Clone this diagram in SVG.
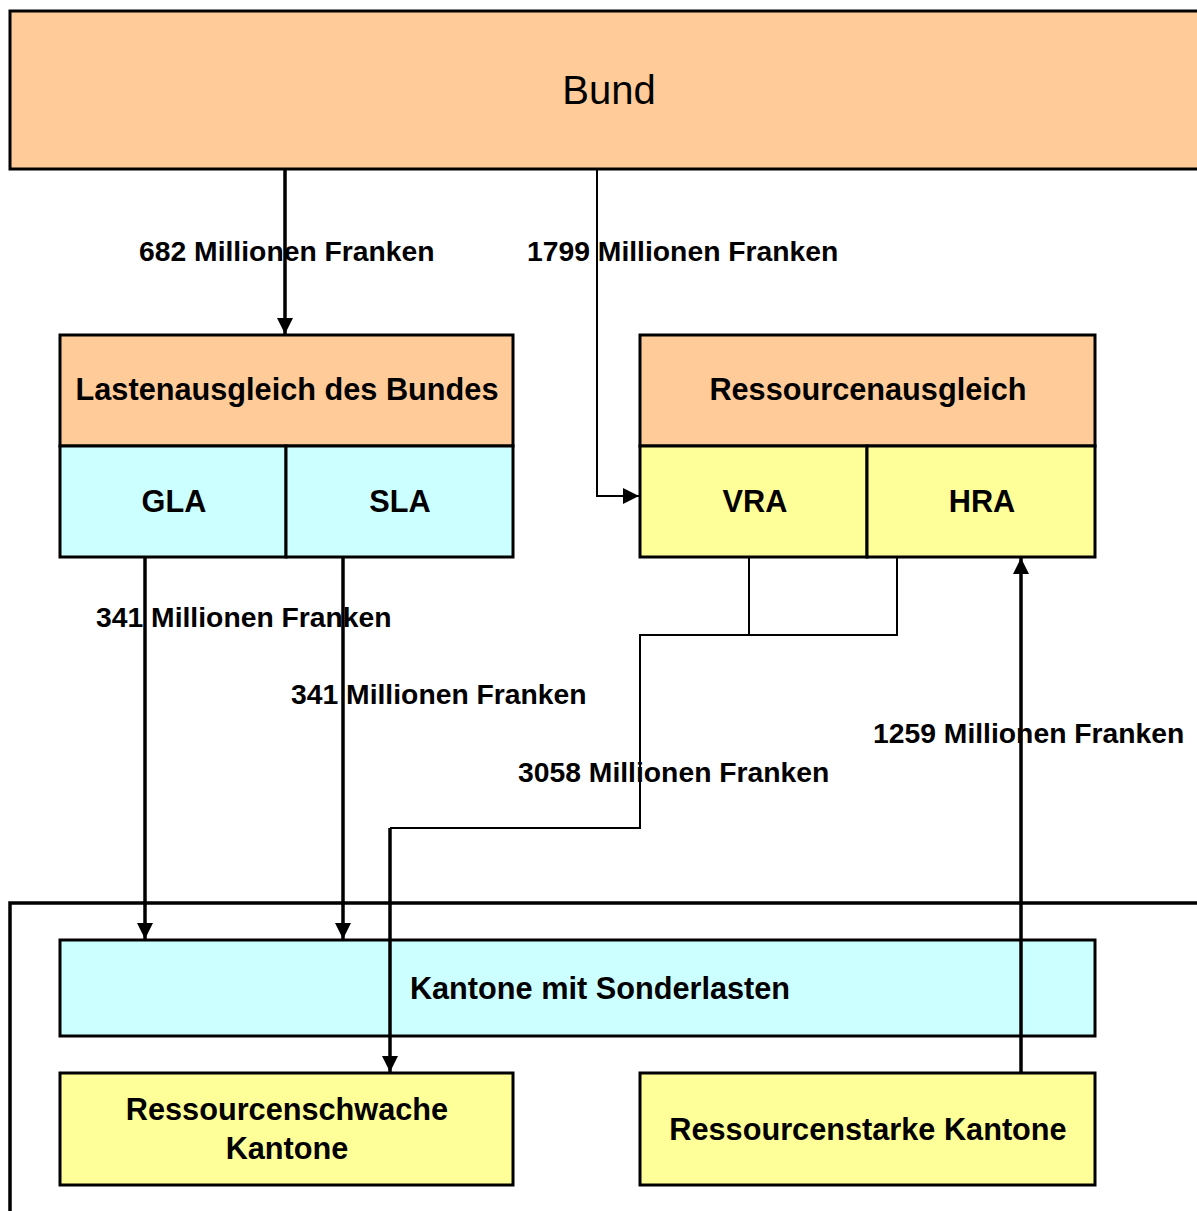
<svg xmlns="http://www.w3.org/2000/svg" width="1197" height="1211" viewBox="0 0 1197 1211">
<defs>
<style>
.box{stroke:#000;stroke-width:3}
.or{fill:#FFCC99}
.cy{fill:#CCFFFF}
.ye{fill:#FFFF99}
.t{font-family:"Liberation Sans",Arial,sans-serif;font-weight:bold;font-size:30.7px;text-anchor:middle;fill:#000}
.lb{font-family:"Liberation Sans",Arial,sans-serif;font-weight:bold;font-size:28.3px;fill:#000}
.thick{stroke:#000;stroke-width:3.5;fill:none}
.thin{stroke:#000;stroke-width:2;fill:none}
</style>
<marker id="ah" viewBox="0 0 10 10" refX="10" refY="5" markerWidth="17" markerHeight="16" markerUnits="userSpaceOnUse" orient="auto">
<path d="M0,0 L10,5 L0,10 z" fill="#000"/>
</marker>
</defs>
<rect width="1197" height="1211" fill="#fff"/>
<g id="outer"><path d="M10,1211 V903 H1197" class="thick"/></g>
<g id="bund"><rect x="10" y="11" width="1200" height="158" class="box or"/><text x="609" y="104" font-family="Liberation Sans, Arial, sans-serif" font-size="40" text-anchor="middle">Bund</text></g>
<g id="lasten"><rect x="60" y="335" width="453" height="111" class="box or"/><text class="t" x="287" y="400">Lastenausgleich des Bundes</text></g>
<g id="gla"><rect x="60" y="446" width="226" height="111" class="box cy"/><text class="t" x="174" y="512">GLA</text></g>
<g id="sla"><rect x="286" y="446" width="227" height="111" class="box cy"/><text class="t" x="400" y="512">SLA</text></g>
<g id="ressourcen"><rect x="640" y="335" width="455" height="111" class="box or"/><text class="t" x="868" y="400">Ressourcenausgleich</text></g>
<g id="vra"><rect x="640" y="446" width="227" height="111" class="box ye"/><text class="t" x="755" y="512">VRA</text></g>
<g id="hra"><rect x="867" y="446" width="228" height="111" class="box ye"/><text class="t" x="982" y="512">HRA</text></g>
<g id="sonder"><rect x="60" y="940" width="1035" height="96" class="box cy"/><text class="t" x="600" y="999">Kantone mit Sonderlasten</text></g>
<g id="schwach"><rect x="60" y="1073" width="453" height="112" class="box ye"/><text class="t" x="287" y="1120">Ressourcenschwache</text><text class="t" x="287" y="1159">Kantone</text></g>
<g id="stark"><rect x="640" y="1073" width="455" height="112" class="box ye"/><text class="t" x="868" y="1140">Ressourcenstarke Kantone</text></g>
<g id="connectors">
<path d="M285,169 V334" class="thick" marker-end="url(#ah)"/>
<path d="M597,169 V496 H639" class="thin" marker-end="url(#ah)"/>
<path d="M145,557 V939" class="thick" marker-end="url(#ah)"/>
<path d="M343,557 V939" class="thick" marker-end="url(#ah)"/>
<path d="M749,557 V635 M897,557 V635 M898,635 H640 V828 H390" class="thin"/>
<path d="M390,828 V1072" class="thick" marker-end="url(#ah)"/>
<path d="M1021,1073 V558" class="thick" marker-end="url(#ah)"/>
</g>
<g id="labels">
<text class="lb" x="139" y="261">682 Millionen Franken</text>
<text class="lb" x="527" y="261">1799 Millionen Franken</text>
<text class="lb" x="96" y="627">341 Millionen Franken</text>
<text class="lb" x="291" y="704">341 Millionen Franken</text>
<text class="lb" x="873" y="743">1259 Millionen Franken</text>
<text class="lb" x="518" y="782">3058 Millionen Franken</text>
</g>
</svg>
